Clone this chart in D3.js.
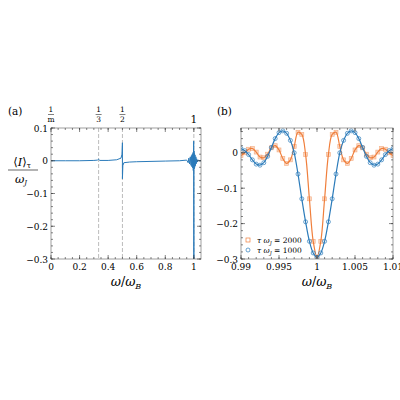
<!DOCTYPE html>
<html><head><meta charset="utf-8">
<script src="https://cdn.jsdelivr.net/npm/d3@7"></script>
<style>body{margin:0;background:#fff}svg text{font-family:"DejaVu Serif","Liberation Serif",serif}</style>
</head><body><div id="chart"></div>
<script>
// panel (a): full spectrum
const spectrumX = [0, 0.1, 0.2, 0.3, 0.325, 0.333, 0.34, 0.4, 0.46, 0.49, 0.497, 0.5, 0.5, 0.503, 0.51, 0.55, 0.6, 0.7, 0.8, 0.9, 0.95,
  0.96, 0.965, 0.97, 0.975, 0.98, 0.983, 0.986, 0.989, 0.992, 0.994, 0.996, 0.998, 0.999, 1.0, 1.0, 1.001, 1.002, 1.004, 1.006, 1.008, 1.011, 1.014, 1.017, 1.02, 1.025, 1.03, 1.04, 1.05];
const spectrumY = [0, 0, 0, 0.001, 0.002, 0.005, 0.001, 0.001, 0.003, 0.008, 0.02, 0.055, -0.055, -0.015, -0.006, -0.004, -0.003, -0.002, -0.001, 0, 0.002,
  -0.006, 0.008, -0.01, 0.012, -0.014, 0.016, -0.018, 0.02, -0.022, 0.025, -0.03, 0.04, 0.06, -0.3, 0.01, 0.03, -0.025, 0.022, -0.02, 0.018, -0.015, 0.012, -0.009, 0.006, -0.004, 0.002, 0, 0];
const resonanceX = [1 / 3, 1 / 2, 1];
const topLabels = [["1", "m", 0], ["1", "3", 1 / 3], ["1", "2", 1 / 2]];

// panel (b): zoom around omega = omega_B, one half (symmetric), step 0.0005
const offsets = d3.range(0, 21).map(k => k * 0.0005);
const blue1000 = [-0.295, -0.283, -0.25, -0.195, -0.13, -0.06, 0.0, 0.035, 0.055, 0.062, 0.057, 0.04, 0.015, -0.01, -0.028, -0.035, -0.032, -0.02, -0.005, 0.006, 0.012];
const orange2000 = [-0.295, -0.25, -0.13, -0.005, 0.052, 0.058, 0.018, -0.02, -0.03, -0.016, 0.008, 0.02, 0.014, -0.004, -0.014, -0.012, 0.002, 0.012, 0.01, 0.0, -0.008];

const blue = "#2b7bba", orange = "#f07f3c";
const svg = d3.select("#chart").append("svg").attr("width", 400).attr("height", 400);

function sym(vals) {
  const pts = [];
  for (let i = vals.length - 1; i > 0; i--) pts.push([1 - offsets[i], vals[i]]);
  for (let i = 0; i < vals.length; i++) pts.push([1 + offsets[i], vals[i]]);
  return pts;
}

function frame(g, x, y, xt, xminor, yt, yminor, xfmt) {
  const [x0, x1] = x.range(), [y1, y0] = y.range();
  g.append("rect").attr("x", x0).attr("y", y0).attr("width", x1 - x0).attr("height", y1 - y0)
    .attr("fill", "none").attr("stroke", "#888").attr("stroke-width", 0.8);
  const tick = (v, len, isX) => {
    if (isX) {
      g.append("line").attr("x1", x(v)).attr("x2", x(v)).attr("y1", y1).attr("y2", y1 - len).attr("stroke", "#333").attr("stroke-width", 0.6);
      g.append("line").attr("x1", x(v)).attr("x2", x(v)).attr("y1", y0).attr("y2", y0 + len).attr("stroke", "#333").attr("stroke-width", 0.6);
    } else {
      g.append("line").attr("y1", y(v)).attr("y2", y(v)).attr("x1", x0).attr("x2", x0 + len).attr("stroke", "#333").attr("stroke-width", 0.6);
      g.append("line").attr("y1", y(v)).attr("y2", y(v)).attr("x1", x1).attr("x2", x1 - len).attr("stroke", "#333").attr("stroke-width", 0.6);
    }
  };
  xminor.forEach(v => tick(v, 2, true)); xt.forEach(v => tick(v, 4, true));
  yminor.forEach(v => tick(v, 2, false)); yt.forEach(v => tick(v, 4, false));
  xt.forEach(v => g.append("text").attr("x", x(v)).attr("y", y1 + 11).attr("text-anchor", "middle").attr("font-size", 9).text(xfmt(v)));
  yt.forEach(v => g.append("text").attr("x", x0 - 3).attr("y", y(v) + 3.5).attr("text-anchor", "end").attr("font-size", 9).text(v === 0 ? "0" : d3.format("")(v).replace("-", "\u2212")));
}

// ---- panel (a)
const xa = d3.scaleLinear().domain([0, 1.05]).range([51, 201]);
const ya = d3.scaleLinear().domain([-0.3, 0.1]).range([259, 128]);
const ga = svg.append("g");
resonanceX.forEach(v => ga.append("line").attr("x1", xa(v)).attr("x2", xa(v)).attr("y1", 128).attr("y2", 259)
  .attr("stroke", "#aaa").attr("stroke-dasharray", "4,2").attr("stroke-width", 0.8));
ga.append("path").datum(spectrumX.map((v, i) => [v, spectrumY[i]]))
  .attr("d", d3.line().x(d => xa(d[0])).y(d => ya(d[1]))).attr("fill", "none").attr("stroke", blue).attr("stroke-width", 1);
frame(ga, xa, ya, [0, 0.2, 0.4, 0.6, 0.8, 1], d3.range(0, 1.05, 0.05), [-0.3, -0.2, -0.1, 0, 0.1], d3.range(-0.3, 0.1001, 0.02), v => v === 0 ? "0" : (v === 1 ? "1" : d3.format(".1f")(v)));
topLabels.forEach(([n, d, v]) => {
  ga.append("text").attr("x", xa(v)).attr("y", 112).attr("text-anchor", "middle").attr("font-size", 7.5).text(n);
  ga.append("line").attr("x1", xa(v) - 3).attr("x2", xa(v) + 3).attr("y1", 114.5).attr("y2", 114.5).attr("stroke", "#000").attr("stroke-width", 0.5);
  ga.append("text").attr("x", xa(v)).attr("y", 122).attr("text-anchor", "middle").attr("font-size", 7.5).text(d);
});
ga.append("text").attr("x", xa(1)).attr("y", 123).attr("text-anchor", "middle").attr("font-size", 10.5).text("1");
ga.append("text").attr("x", 8).attr("y", 115).attr("font-size", 10.5).text("(a)");
// y label
ga.append("text").attr("x", 22).attr("y", 166).attr("text-anchor", "middle").attr("font-size", 11.5)
  .html('⟨<tspan font-style="italic">I</tspan>⟩<tspan font-size="7.5" dy="2">τ</tspan>');
ga.append("line").attr("x1", 8).attr("x2", 38).attr("y1", 170).attr("y2", 170).attr("stroke", "#000").attr("stroke-width", 0.6);
ga.append("text").attr("x", 21).attr("y", 183).attr("text-anchor", "middle").attr("font-size", 11.5)
  .html('<tspan font-style="italic">ω</tspan><tspan font-size="7" dy="2" font-style="italic">J</tspan>');
ga.append("text").attr("x", 126).attr("y", 286).attr("text-anchor", "middle").attr("font-size", 12.5)
  .html('<tspan font-style="italic">ω</tspan>/<tspan font-style="italic">ω</tspan><tspan font-size="8" dy="3" font-style="italic">B</tspan>');

// ---- panel (b)
const xb = d3.scaleLinear().domain([0.99, 1.01]).range([241, 393]);
const yb = d3.scaleLinear().domain([-0.3, 0.07]).range([259, 128]);
const gb = svg.append("g");
gb.append("clipPath").attr("id", "cb").append("rect").attr("x", 241).attr("y", 128).attr("width", 152).attr("height", 131);
const lineB = d3.line().curve(d3.curveCatmullRom).x(d => xb(d[0])).y(d => yb(d[1]));
const pb = gb.append("g").attr("clip-path", "url(#cb)");
const oPts = sym(orange2000), bPts = sym(blue1000);
pb.append("path").attr("d", lineB(oPts)).attr("fill", "none").attr("stroke", orange).attr("stroke-width", 1.2);
pb.selectAll(".sq").data(oPts).enter().append("rect").attr("x", d => xb(d[0]) - 2).attr("y", d => yb(d[1]) - 2)
  .attr("width", 4).attr("height", 4).attr("fill", orange).attr("fill-opacity", 0.3).attr("stroke", orange).attr("stroke-opacity", 0.6).attr("stroke-width", 0.6);
pb.append("path").attr("d", lineB(bPts)).attr("fill", "none").attr("stroke", blue).attr("stroke-width", 1.2);
pb.selectAll(".ci").data(bPts).enter().append("circle").attr("cx", d => xb(d[0])).attr("cy", d => yb(d[1])).attr("r", 2)
  .attr("fill", "none").attr("stroke", blue).attr("stroke-width", 0.7);
frame(gb, xb, yb, [0.99, 0.995, 1, 1.005, 1.01], d3.range(0.99, 1.0101, 0.001), [-0.3, -0.2, -0.1, 0], d3.range(-0.3, 0.0701, 0.02), v => v === 1 ? "1" : String(+v.toFixed(3)));
gb.append("text").attr("x", 217).attr("y", 115).attr("font-size", 10.5).text("(b)");
gb.append("text").attr("x", 317).attr("y", 286).attr("text-anchor", "middle").attr("font-size", 12.5)
  .html('<tspan font-style="italic">ω</tspan>/<tspan font-style="italic">ω</tspan><tspan font-size="8" dy="3" font-style="italic">B</tspan>');
const legend = [[orange, "sq", "2000", 240], [blue, "ci", "1000", 250]];
legend.forEach(([c, m, v, yy]) => {
  if (m === "sq") gb.append("rect").attr("x", 246).attr("y", yy - 2).attr("width", 4).attr("height", 4).attr("fill", "none").attr("stroke", c).attr("stroke-width", 0.7);
  else gb.append("circle").attr("cx", 248).attr("cy", yy).attr("r", 2).attr("fill", "none").attr("stroke", c).attr("stroke-width", 0.7);
  gb.append("text").attr("x", 257).attr("y", yy + 3).attr("font-size", 7.5)
    .html('<tspan font-style="italic">τ ω</tspan><tspan font-size="5" dy="1.5" font-style="italic">J</tspan><tspan dy="-1.5"> = ' + v + '</tspan>');
});
</script></body></html>
